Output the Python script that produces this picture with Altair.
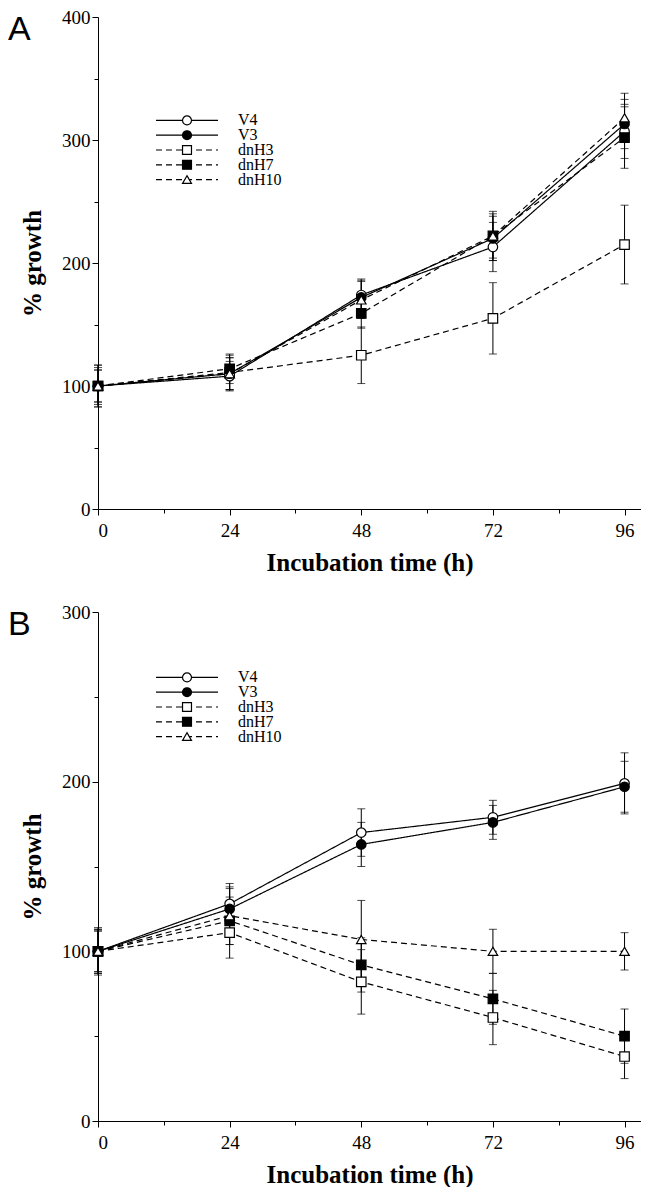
import altair as alt
import pandas as pd

times = [0, 24, 48, 72, 96]
series = ["V4", "V3", "dnH3", "dnH7", "dnH10"]

# Panel A values (% growth) and error half-widths
a_vals = {
    "V4":    [100, 108, 174, 213, 307],
    "V3":    [100, 110, 172, 220, 313],
    "dnH3":  [100, 111, 125, 155, 215],
    "dnH7":  [100, 114, 159, 222, 302],
    "dnH10": [100, 110, 170, 222, 318],
}
a_errs = {
    "V4":    [13, 12, 13, 20, 22],
    "V3":    [15, 13, 14, 18, 20],
    "dnH3":  [17, 14, 23, 29, 32],
    "dnH7":  [17, 12, 12, 20, 25],
    "dnH10": [13, 13, 15, 18, 20],
}
# Panel B
b_vals = {
    "V4":    [100, 128, 170, 179, 199],
    "V3":    [100, 125, 163, 176, 197],
    "dnH3":  [100, 111, 82, 61, 38],
    "dnH7":  [100, 118, 92, 72, 50],
    "dnH10": [100, 121, 107, 100, 100],
}
b_errs = {
    "V4":    [13, 12, 14, 10, 18],
    "V3":    [12, 12, 13, 10, 15],
    "dnH3":  [14, 15, 19, 16, 13],
    "dnH7":  [13, 14, 16, 15, 16],
    "dnH10": [12, 17, 23, 13, 11],
}

x_ticks = [0, 12, 24, 36, 48, 60, 72, 84, 96]

dash_range = [[1, 0], [1, 0], [6, 4], [6, 4], [6, 4]]
shape_range = ["circle", "circle", "square", "square", "triangle-up"]
fill_range = ["white", "black", "white", "black", "white"]

SERIF = "Liberation Serif"
W = 543


def make_df(vals, errs):
    rows = []
    for s in series:
        for t, v, e in zip(times, vals[s], errs[s]):
            rows.append({"time": t, "series": s, "value": v, "lo": v - e, "hi": v + e})
    return pd.DataFrame(rows)


def panel(vals, errs, ymax, height, letter, letter_y, legend_range):
    df = make_df(vals, errs)
    xs = alt.Scale(domain=[0, 99], nice=False, zero=False)
    ys = alt.Scale(domain=[0, ymax], nice=False)
    y_ticks = list(range(0, ymax + 1, 50))

    x_axis = alt.Axis(
        values=x_ticks,
        labelExpr="datum.value % 24 === 0 ? datum.label : ''",
        title="Incubation time (h)",
        grid=False,
        tickSize={"condition": {"test": "datum.value % 24 === 0", "value": 6}, "value": 4},
        labelPadding=6,
        titlePadding=10,
    )
    y_axis = alt.Axis(
        values=y_ticks,
        labelExpr="datum.value % 100 === 0 ? datum.label : ''",
        title="% growth",
        grid=False,
        tickSize={"condition": {"test": "datum.value % 100 === 0", "value": 6}, "value": 4},
        labelPadding=2,
        titlePadding=16,
    )

    base = alt.Chart(df)
    sdash = alt.StrokeDash("series:N", scale=alt.Scale(domain=series, range=dash_range), legend=None)
    sshape = alt.Shape("series:N", scale=alt.Scale(domain=series, range=shape_range), legend=None)
    sfill = alt.Fill("series:N", scale=alt.Scale(domain=series, range=fill_range), legend=None)

    err = base.mark_rule(color="black", strokeWidth=1).encode(
        x=alt.X("time:Q", scale=xs, axis=x_axis),
        y=alt.Y("lo:Q", scale=ys, axis=y_axis),
        y2="hi:Q",
    )
    cap_lo = base.mark_tick(color="black", orient="horizontal", size=8, thickness=1).encode(
        x=alt.X("time:Q", scale=xs), y=alt.Y("lo:Q", scale=ys)
    )
    cap_hi = base.mark_tick(color="black", orient="horizontal", size=8, thickness=1).encode(
        x=alt.X("time:Q", scale=xs), y=alt.Y("hi:Q", scale=ys)
    )
    lines = base.mark_line(color="black", strokeWidth=1.2).encode(
        x=alt.X("time:Q", scale=xs),
        y=alt.Y("value:Q", scale=ys),
        strokeDash=sdash,
        detail="series:N",
    )
    pts = base.mark_point(filled=True, stroke="black", strokeWidth=1.2, size=90, opacity=1).encode(
        x=alt.X("time:Q", scale=xs),
        y=alt.Y("value:Q", scale=ys),
        shape=sshape,
        fill=sfill,
    )
    main = alt.layer(err, cap_lo, cap_hi, lines, pts)

    leg_df = pd.DataFrame({"series": series})
    ly = alt.Y("series:N", scale=alt.Scale(domain=series, range=legend_range), axis=None)
    lbase = alt.Chart(leg_df)
    leg_line = lbase.mark_rule(color="black", strokeWidth=1.2).encode(
        x=alt.value(58), x2=alt.value(120), y=ly, strokeDash=sdash
    )
    leg_pt = lbase.mark_point(filled=True, stroke="black", strokeWidth=1.2, size=80, opacity=1).encode(
        x=alt.value(89), y=ly, shape=sshape, fill=sfill
    )
    leg_txt = lbase.mark_text(align="left", baseline="middle", font=SERIF, fontSize=16, color="black").encode(
        x=alt.value(140), y=ly, text="series:N"
    )
    let_df = pd.DataFrame({"t": [letter]})
    let_txt = alt.Chart(let_df).mark_text(
        align="left", baseline="alphabetic", font="Liberation Sans", fontSize=34, color="black"
    ).encode(x=alt.value(-90), y=alt.value(letter_y), text="t:N")

    legend = alt.layer(leg_line, leg_pt, leg_txt, let_txt)
    return alt.layer(main, legend).resolve_scale(y="independent").properties(width=W, height=height)


pa = panel(a_vals, a_errs, 400, 492, "A", 23, [96, 170])
pb = panel(b_vals, b_errs, 300, 509, "B", 23, [58, 132])

chart = alt.vconcat(pa, pb, spacing=28).properties(padding=0).configure_view(stroke=None).configure_axis(
    domainColor="black",
    domainWidth=1,
    tickColor="black",
    tickWidth=1,
    labelFont=SERIF,
    labelFontSize=19,
    labelColor="black",
    titleFont=SERIF,
    titleFontSize=25,
    titleFontWeight="bold",
    titleColor="black",
)

chart.save("out.html", embed_options={"renderer": "svg", "actions": False})
